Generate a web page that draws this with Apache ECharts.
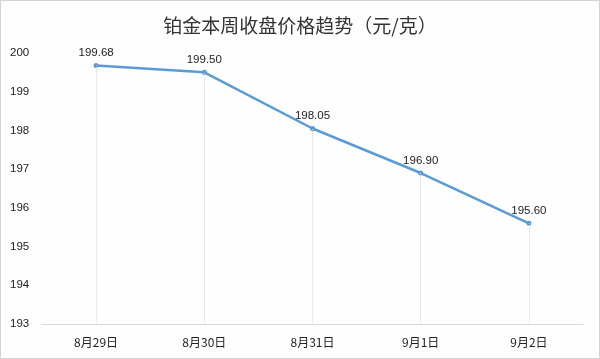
<!DOCTYPE html>
<html><head><meta charset="utf-8">
<script src="https://cdn.jsdelivr.net/npm/echarts@6/dist/echarts.min.js"></script>
<style>html,body{margin:0;padding:0;background:#fff}#c{width:600px;height:359px;box-sizing:border-box;border:1px solid #d4d4d4;background:#fdfefd}</style>
</head><body><div id="c"></div>
<script>
const categories = ['8月29日','8月30日','8月31日','9月1日','9月2日'];
const prices = [199.68, 199.50, 198.05, 196.90, 195.60];
const yMin = 193, yMax = 200;

const chart = echarts.init(document.getElementById('c'));
const dropLines = prices.map((v,i)=>[{xAxis:i,yAxis:yMin},{xAxis:i,yAxis:v}]);
chart.setOption({
  animation:false,
  title:{text:'铂金本周收盘价格趋势（元/克）',left:'center',top:10,
    textStyle:{fontFamily:'Noto Sans CJK SC',fontSize:19,fontWeight:'normal',color:'#333'}},
  grid:{left:41,right:16,top:52,bottom:34},
  xAxis:{type:'category',data:categories,boundaryGap:true,
    axisLine:{lineStyle:{color:'#d9d9d9'}},axisTick:{show:false},
    axisLabel:{color:'#222',fontSize:12,margin:12,fontFamily:'Noto Sans CJK SC'}},
  yAxis:{type:'value',min:yMin,max:yMax,interval:1,
    axisLine:{show:false},axisTick:{show:false},splitLine:{show:false},
    axisLabel:{color:'#222',fontSize:11.5,align:'left',margin:32,fontFamily:'Liberation Sans'}},
  series:[{type:'line',data:prices,symbol:'circle',symbolSize:5,
    lineStyle:{color:'#5b9bd5',width:2.5},itemStyle:{color:'#5b9bd5'},
    label:{show:true,position:'top',distance:4,color:'#222',fontSize:11.5,fontFamily:'Liberation Sans',
      formatter:p=>p.value.toFixed(2)},
    markLine:{silent:true,symbol:'none',label:{show:false},
      lineStyle:{color:'#d9d9d9',type:'dotted',width:1},data:dropLines}
  }]
});
</script></body></html>
